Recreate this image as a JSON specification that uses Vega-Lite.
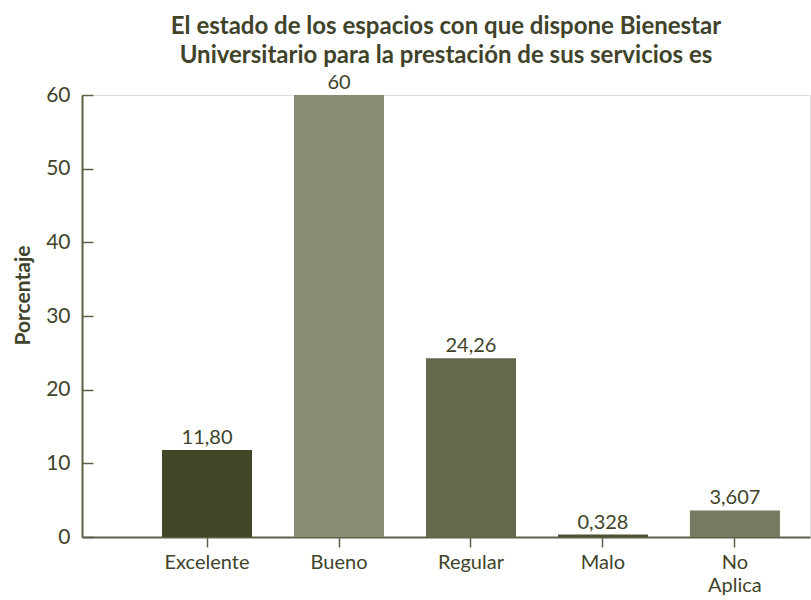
{
  "$schema": "https://vega.github.io/schema/vega-lite/v6.json",
  "autosize": "none",
  "width": 728,
  "height": 442,
  "padding": {"left": 82, "top": 95, "right": 1, "bottom": 63},
  "background": "white",
  "title": {
    "text": ["El estado de los espacios con que dispone Bienestar", "Universitario para la prestación de sus servicios es"],
    "font": "Lato",
    "fontSize": 24,
    "fontWeight": "bold",
    "color": "#40432a",
    "lineHeight": 29,
    "anchor": "middle",
    "offset": 5
  },
  "data": {
    "values": [
      {"categoria": "Excelente", "valor": 11.80, "etiqueta": "11,80"},
      {"categoria": "Bueno", "valor": 60, "etiqueta": "60"},
      {"categoria": "Regular", "valor": 24.26, "etiqueta": "24,26"},
      {"categoria": "Malo", "valor": 0.328, "etiqueta": "0,328"},
      {"categoria": "No Aplica", "valor": 3.607, "etiqueta": "3,607"}
    ]
  },
  "encoding": {
    "x": {
      "field": "categoria",
      "type": "nominal",
      "sort": null,
      "scale": {"paddingInner": 0.318, "paddingOuter": 0.417, "align": 0.727},
      "axis": {
        "title": null,
        "labelAngle": 0,
        "labelFont": "Lato",
        "labelFontSize": 20,
        "labelColor": "#40432a",
        "labelPadding": 5,
        "tickSize": 10,
        "tickColor": "#5d6046",
        "tickWidth": 1.5,
        "domainColor": "#5d6046",
        "domainWidth": 2,
        "labelBaseline": "top",
        "labelLineHeight": 23,
        "labelExpr": "datum.label == 'No Aplica' ? ['No', 'Aplica'] : datum.label"
      }
    },
    "y": {
      "field": "valor",
      "type": "quantitative",
      "scale": {"domain": [0, 60], "nice": false},
      "axis": {
        "title": "Porcentaje",
        "titleFont": "Lato",
        "titleFontSize": 21,
        "titleFontWeight": "bold",
        "titleColor": "#40432a",
        "titlePadding": 12,
        "titleY": 200,
        "values": [0, 10, 20, 30, 40, 50, 60],
        "grid": false,
        "labelFont": "Lato",
        "labelFontSize": 21,
        "labelColor": "#40432a",
        "tickSize": -11,
        "labelPadding": 23,
        "tickColor": "#5d6046",
        "tickWidth": 1.5,
        "domainColor": "#5d6046",
        "domainWidth": 2
      }
    }
  },
  "layer": [
    {
      "mark": {"type": "bar"},
      "encoding": {
        "color": {
          "field": "categoria",
          "type": "nominal",
          "legend": null,
          "scale": {
            "domain": ["Excelente", "Bueno", "Regular", "Malo", "No Aplica"],
            "range": ["#434727", "#8a8b75", "#65684b", "#4e5132", "#777962"]
          }
        }
      }
    },
    {
      "mark": {"type": "text", "baseline": "bottom", "dy": -2, "font": "Lato", "fontSize": 20, "color": "#40432a"},
      "encoding": {"text": {"field": "etiqueta"}}
    }
  ]
}
